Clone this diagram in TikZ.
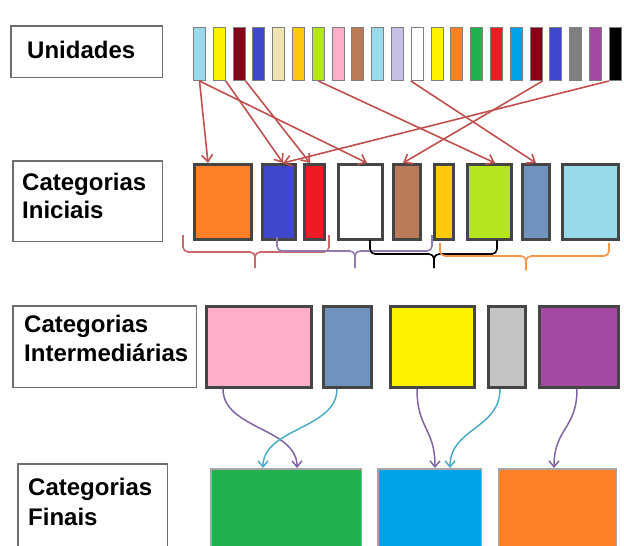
\documentclass[tikz,border=0pt]{standalone}
\usepackage{fontspec}
\setmainfont{Liberation Sans}
\usetikzlibrary{arrows.meta}
\definecolor{lblue}{HTML}{99D9EA}
\definecolor{yel}{HTML}{FFF200}
\definecolor{dred}{HTML}{880015}
\definecolor{blu}{HTML}{3F48CC}
\definecolor{beige}{HTML}{EFE4B0}
\definecolor{gold}{HTML}{FFC90E}
\definecolor{lime}{HTML}{B5E61D}
\definecolor{pnk}{HTML}{FFAEC9}
\definecolor{brwn}{HTML}{B97A57}
\definecolor{lav}{HTML}{C8BFE7}
\definecolor{orng}{HTML}{FF7F27}
\definecolor{grn}{HTML}{22B14C}
\definecolor{rd}{HTML}{ED1C24}
\definecolor{sky}{HTML}{00A2E8}
\definecolor{gray7}{HTML}{7F7F7F}
\definecolor{purp}{HTML}{A349A4}
\definecolor{steel}{HTML}{7092BE}
\definecolor{silver}{HTML}{C3C3C3}
\definecolor{arrred}{HTML}{C0504D}
\definecolor{brpurp}{HTML}{8064A2}
\definecolor{teal2}{HTML}{4BACC6}
\definecolor{brorange}{HTML}{F79646}
\definecolor{framec}{HTML}{454545}
\definecolor{labc}{HTML}{6E6E6E}
\definecolor{finc}{HTML}{A6A6A6}
\begin{document}
\begin{tikzpicture}[x=1pt,y=-1pt,
  lblbox/.style={draw=labc, line width=1.5pt, fill=white, inner sep=0pt},
  lbltext/.style={anchor=base west, inner sep=0pt, font=\bfseries\fontsize{24}{28}\selectfont},
  strip/.style={draw=gray7, line width=1pt, inner sep=0pt, minimum width=12, minimum height=53},
  ibox/.style={draw=framec, line width=3pt, inner sep=0pt, minimum height=75},
  mbox/.style={draw=framec, line width=3pt, inner sep=0pt, minimum height=81},
  fbox/.style={draw=finc, line width=1.5pt, inner sep=0pt, minimum height=100.5},
  redarr/.style={draw=arrred, line width=1.6pt, -{Straight Barb[length=7pt,width=11pt]}},
  purarr/.style={draw=brpurp, line width=1.5pt, -{Straight Barb[length=6pt,width=10pt]}},
  tealarr/.style={draw=teal2, line width=1.5pt, -{Straight Barb[length=6pt,width=10pt]}},
  brace/.style={line width=1.6pt, rounded corners=5pt}
]
\useasboundingbox (0,0) rectangle (624,546);
\clip (0,0) rectangle (624,546);

% label boxes
\node[lblbox, minimum width=151.5, minimum height=51.5] (lu) at (86.5,51.5) {};
\node[lbltext] (tu) at (27,58) {Unidades};
\node[lblbox, minimum width=149.5, minimum height=80.5] (li) at (87.5,201) {};
\node[lbltext] (ti1) at (22,190) {Categorias};
\node[lbltext] (ti2) at (22,218) {Iniciais};
\node[lblbox, minimum width=183.5, minimum height=81.5] (lm) at (104.5,346.5) {};
\node[lbltext] (tm1) at (24,332) {Categorias};
\node[lbltext] (tm2) at (24,361) {Intermediárias};
\node[lblbox, minimum width=149.5, minimum height=105.5] (lf) at (92.5,516.5) {};
\node[lbltext] (tf1) at (28,495) {Categorias};
\node[lbltext] (tf2) at (28,525) {Finais};

% unit strips
\foreach \c [count=\i] in {lblue,yel,dred,blu,beige,gold,lime,pnk,brwn,lblue,lav,white,yel,orng,grn,rd,sky,dred,blu,gray7,purp,black}{
  \node[strip, fill=\c] (u\i) at ({199.5+19.8*(\i-1)},54) {};
}

% initial categories
\node[ibox, fill=orng, minimum width=57] (i1) at (223,202) {};
\node[ibox, fill=blu, minimum width=33] (i2) at (279,202) {};
\node[ibox, fill=rd, minimum width=20] (i3) at (314.5,202) {};
\node[ibox, fill=white, minimum width=44] (i4) at (360.5,202) {};
\node[ibox, fill=brwn, minimum width=27] (i5) at (407,202) {};
\node[ibox, fill=gold, minimum width=19] (i6) at (444,202) {};
\node[ibox, fill=lime, minimum width=44] (i7) at (489.5,202) {};
\node[ibox, fill=steel, minimum width=27] (i8) at (536,202) {};
\node[ibox, fill=lblue, minimum width=56] (i9) at (590.5,202) {};

% arrows units -> initial
\draw[redarr] (u1.south) -- ([xshift=-15pt]i1.north);
\draw[redarr] (u1.south) -- ([xshift=6.5pt]i4.north);
\draw[redarr] (u2.south east) -- ([xshift=4pt]i2.north);
\draw[redarr] (u3.south east) -- ([xshift=-4.5pt]i3.north);
\draw[redarr] (u7.south) -- ([xshift=5.5pt]i7.north);
\draw[redarr] (u12.south west) -- (i8.north);
\draw[redarr] (u18.south east) -- ([xshift=-4pt]i5.north);
\draw[redarr] (u22.south west) -- ([xshift=4pt]i2.north);

% braces
\draw[brace, draw=arrred!85!white] (183,235) -- (183,252) -- (255,252) -- (255,268);
\draw[brace, draw=arrred!85!white] (329,235) -- (329,252) -- (255,252) -- (255,268);
\draw[brace, draw=brpurp!85!white] (277,237) -- (277,251) -- (355,251) -- (355,268);
\draw[brace, draw=brpurp!85!white] (432,235) -- (432,251) -- (355,251) -- (355,268);
\draw[brace, draw=black] (370,240) -- (370,254) -- (434,254) -- (434,268);
\draw[brace, draw=black] (497,240) -- (497,254) -- (434,254) -- (434,268);
\draw[brace, draw=brorange] (440,243) -- (440,256) -- (526,256) -- (526,270);
\draw[brace, draw=brorange] (609,243) -- (609,256) -- (526,256) -- (526,270);

% intermediate categories
\node[mbox, fill=pnk, minimum width=105] (p1) at (259,347) {};
\node[mbox, fill=steel, minimum width=48] (p2) at (347.5,347) {};
\node[mbox, fill=yel, minimum width=84] (p3) at (432.5,347) {};
\node[mbox, fill=silver, minimum width=37] (p4) at (507,347) {};
\node[mbox, fill=purp, minimum width=79] (p5) at (579,347) {};

% final categories
\node[fbox, fill=grn, minimum width=150.5] (f1) at (286,519) {};
\node[fbox, fill=sky, minimum width=103.5] (f2) at (429.5,519) {};
\node[fbox, fill=orng, minimum width=117.5] (f3) at (557.5,519) {};

% curves
\draw[purarr] ([xshift=18pt]p1.south west) .. controls +(0,40) and +(0,-40) .. ([xshift=87pt]f1.north west);
\draw[tealarr] ([xshift=15pt]p2.south west) .. controls +(0,40) and +(0,-40) .. ([xshift=53pt]f1.north west);
\draw[purarr] ([xshift=28pt]p3.south west) .. controls +(0,40) and +(0,-40) .. ([xshift=58pt]f2.north west);
\draw[tealarr] ([xshift=13pt]p4.south west) .. controls +(0,40) and +(0,-40) .. ([xshift=73pt]f2.north west);
\draw[purarr] ([xshift=39pt]p5.south west) .. controls +(0,40) and +(0,-40) .. ([xshift=56pt]f3.north west);
\end{tikzpicture}
\end{document}
